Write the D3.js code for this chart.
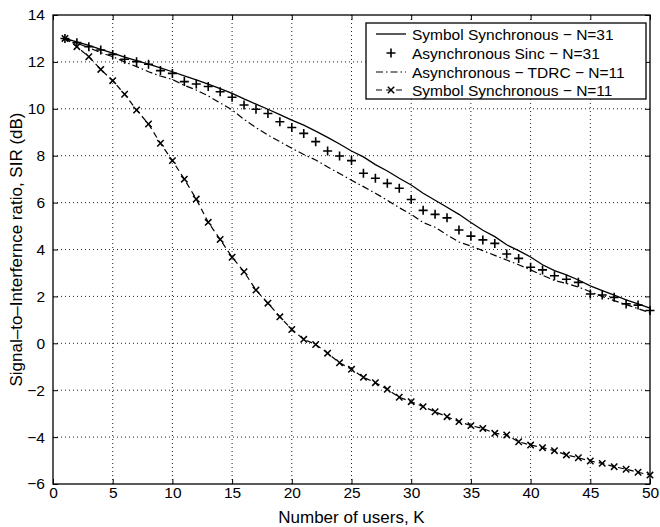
<!DOCTYPE html>
<html>
<head>
<meta charset="utf-8">
<script src="https://cdn.jsdelivr.net/npm/d3@7"></script>
<style>
  body { margin: 0; background: #fff; }
  svg text { font-family: "Liberation Sans", Arial, Helvetica, sans-serif; fill: #000; }
</style>
</head>
<body>
<div id="chart"></div>
<script>
// number of users K = 1..50
const users = d3.range(1, 51);

const symSync31 = [13.0, 12.85, 12.7, 12.53, 12.37, 12.2, 12.05, 11.9, 11.75, 11.58,
  11.4, 11.23, 11.05, 10.86, 10.66, 10.42, 10.2, 9.98, 9.75, 9.52,
  9.3, 9.05, 8.78, 8.5, 8.2, 7.95, 7.62, 7.35, 7.04, 6.75,
  6.4, 6.1, 5.8, 5.5, 5.15, 4.82, 4.55, 4.2, 3.95, 3.68,
  3.35, 3.1, 2.92, 2.7, 2.45, 2.25, 2.05, 1.85, 1.68, 1.5];

const asyncSinc31 = [13.0, 12.82, 12.65, 12.51, 12.32, 12.11, 12.01, 11.9, 11.63, 11.51,
  11.16, 11.06, 10.95, 10.73, 10.49, 10.16, 9.98, 9.8, 9.45, 9.2,
  8.95, 8.6, 8.2, 7.99, 7.79, 7.25, 7.04, 6.82, 6.61, 6.13,
  5.67, 5.5, 5.35, 4.83, 4.57, 4.41, 4.26, 3.81, 3.62, 3.24,
  3.13, 2.88, 2.73, 2.6, 2.1, 2.06, 1.96, 1.68, 1.63, 1.4];

const asyncTdrc11 = [13.0, 12.8, 12.6, 12.4, 12.22, 12.0, 11.8, 11.58, 11.4, 11.25,
  11.0, 10.8, 10.55, 10.25, 9.95, 9.55, 9.2, 8.88, 8.6, 8.32,
  8.05, 7.82, 7.52, 7.24, 6.95, 6.68, 6.4, 6.1, 5.78, 5.5,
  5.15, 4.95, 4.62, 4.32, 4.15, 3.95, 3.75, 3.55, 3.35, 3.13,
  2.9, 2.68, 2.55, 2.4, 2.2, 2.0, 1.82, 1.65, 1.48, 1.3];

const symSync11 = [13.0, 12.65, 12.22, 11.68, 11.2, 10.62, 9.95, 9.35, 8.53, 7.79,
  7.0, 6.15, 5.16, 4.43, 3.67, 3.05, 2.27, 1.71, 1.13, 0.59,
  0.17, -0.05, -0.42, -0.83, -1.11, -1.45, -1.68, -1.96, -2.3, -2.49,
  -2.7, -2.92, -3.13, -3.34, -3.51, -3.63, -3.84, -3.91, -4.2, -4.34,
  -4.45, -4.58, -4.76, -4.88, -5.02, -5.12, -5.26, -5.37, -5.5, -5.62];

const xTicks = d3.range(0, 51, 5);
const yTicks = d3.range(-6, 15, 2);

const legendLabels = [
  "Symbol Synchronous \u2212 N=31",
  "Asynchronous Sinc \u2212 N=31",
  "Asynchronous \u2212 TDRC \u2212 N=11",
  "Symbol Synchronous \u2212 N=11"
];

const W = 660, H = 527;
const margin = { top: 15, right: 10, bottom: 43, left: 53 };
const width = W - margin.left - margin.right;
const height = H - margin.top - margin.bottom;

const svg = d3.select("#chart").append("svg")
  .attr("width", W).attr("height", H);

const g = svg.append("g")
  .attr("transform", `translate(${margin.left},${margin.top})`);

const x = d3.scaleLinear().domain([0, 50]).range([0, width]);
const y = d3.scaleLinear().domain([-6, 14]).range([height, 0]);

// dotted grid
const grid = g.append("g").attr("stroke", "#222").attr("stroke-width", 1)
  .attr("stroke-dasharray", "1,3");
grid.selectAll(".gx").data(xTicks.slice(1, -1)).join("line")
  .attr("x1", d => x(d)).attr("x2", d => x(d))
  .attr("y1", 0).attr("y2", height);
grid.selectAll(".gy").data(yTicks.slice(1, -1)).join("line")
  .attr("x1", 0).attr("x2", width)
  .attr("y1", d => y(d)).attr("y2", d => y(d));

// axes (ticks inward, like matlab)
function styleAxis(sel) {
  sel.select(".domain").remove();
  sel.selectAll(".tick line").attr("stroke", "#000");
  sel.selectAll(".tick text").attr("font-size", "15.5px");
}
g.append("g").attr("transform", `translate(0,${height})`)
  .call(d3.axisBottom(x).tickValues(xTicks).tickSize(-5).tickPadding(4))
  .call(styleAxis)
  .call(a => a.selectAll(".tick text").attr("dy", "0.62em"));
g.append("g")
  .call(d3.axisLeft(y).tickValues(yTicks).tickSize(-5).tickPadding(8)
    .tickFormat(d => d < 0 ? "\u2212" + Math.abs(d) : d))
  .call(styleAxis);
g.append("g")
  .call(d3.axisTop(x).tickValues(xTicks).tickSize(-5).tickFormat(""))
  .call(styleAxis);
g.append("g").attr("transform", `translate(${width},0)`)
  .call(d3.axisRight(y).tickValues(yTicks).tickSize(-5).tickFormat(""))
  .call(styleAxis);

g.append("rect").attr("width", width).attr("height", height)
  .attr("fill", "none").attr("stroke", "#000").attr("stroke-width", 1.3);

const line = d3.line().x((d, i) => x(users[i])).y(d => y(d));

// Symbol Synchronous N=31 : solid
g.append("path").datum(symSync31).attr("d", line)
  .attr("fill", "none").attr("stroke", "#000").attr("stroke-width", 1.3);

// Asynchronous TDRC N=11 : dash-dot
g.append("path").datum(asyncTdrc11).attr("d", line)
  .attr("fill", "none").attr("stroke", "#000").attr("stroke-width", 1.2)
  .attr("stroke-dasharray", "7,3,1.5,3");

// Symbol Synchronous N=11 : dashed with x markers
g.append("path").datum(symSync11).attr("d", line)
  .attr("fill", "none").attr("stroke", "#000").attr("stroke-width", 1.2)
  .attr("stroke-dasharray", "6,4");

const plusPath = (cx, cy, r) => `M${cx - r},${cy}h${2 * r}M${cx},${cy - r}v${2 * r}`;
const crossPath = (cx, cy, r) => `M${cx - r},${cy - r}L${cx + r},${cy + r}M${cx - r},${cy + r}L${cx + r},${cy - r}`;

g.append("g").selectAll("path").data(asyncSinc31).join("path")
  .attr("d", (d, i) => plusPath(x(users[i]), y(d), 4.5))
  .attr("stroke", "#000").attr("stroke-width", 1.6).attr("fill", "none");

g.append("g").selectAll("path").data(symSync11).join("path")
  .attr("d", (d, i) => crossPath(x(users[i]), y(d), 3.2))
  .attr("stroke", "#000").attr("stroke-width", 1.5).attr("fill", "none");

// axis titles
svg.append("text")
  .attr("x", margin.left + width / 2).attr("y", H - 4)
  .attr("text-anchor", "middle").attr("font-size", "17px")
  .text("Number of users, K");

svg.append("text")
  .attr("transform", `translate(22,${margin.top + height / 2}) rotate(-90)`)
  .attr("text-anchor", "middle").attr("font-size", "17px")
  .text("Signal\u2013to\u2013Interfernce ratio, SIR (dB)");

// legend
const lg = svg.append("g").attr("transform", "translate(366,23)");
lg.append("rect").attr("width", 280).attr("height", 76)
  .attr("fill", "#fff").attr("stroke", "#000").attr("stroke-width", 1.3);

const rowY = [11, 30, 49, 67];
const sx0 = 10, sx1 = 40, smid = 25;
lg.selectAll(".lab").data(legendLabels).join("text")
  .attr("x", 46).attr("y", (d, i) => rowY[i] + 5.5)
  .attr("font-size", "15.5px").text(d => d);

lg.append("line").attr("x1", sx0).attr("x2", sx1).attr("y1", rowY[0]).attr("y2", rowY[0])
  .attr("stroke", "#000").attr("stroke-width", 1.3);
lg.append("path").attr("d", plusPath(smid, rowY[1], 4.5))
  .attr("stroke", "#000").attr("stroke-width", 1.6);
lg.append("line").attr("x1", sx0).attr("x2", sx1).attr("y1", rowY[2]).attr("y2", rowY[2])
  .attr("stroke", "#000").attr("stroke-width", 1.2).attr("stroke-dasharray", "7,3,1.5,3");
lg.append("line").attr("x1", sx0).attr("x2", sx1).attr("y1", rowY[3]).attr("y2", rowY[3])
  .attr("stroke", "#000").attr("stroke-width", 1.2).attr("stroke-dasharray", "6,4");
lg.append("path").attr("d", crossPath(smid, rowY[3], 3.2))
  .attr("stroke", "#000").attr("stroke-width", 1.5);
</script>
</body>
</html>
